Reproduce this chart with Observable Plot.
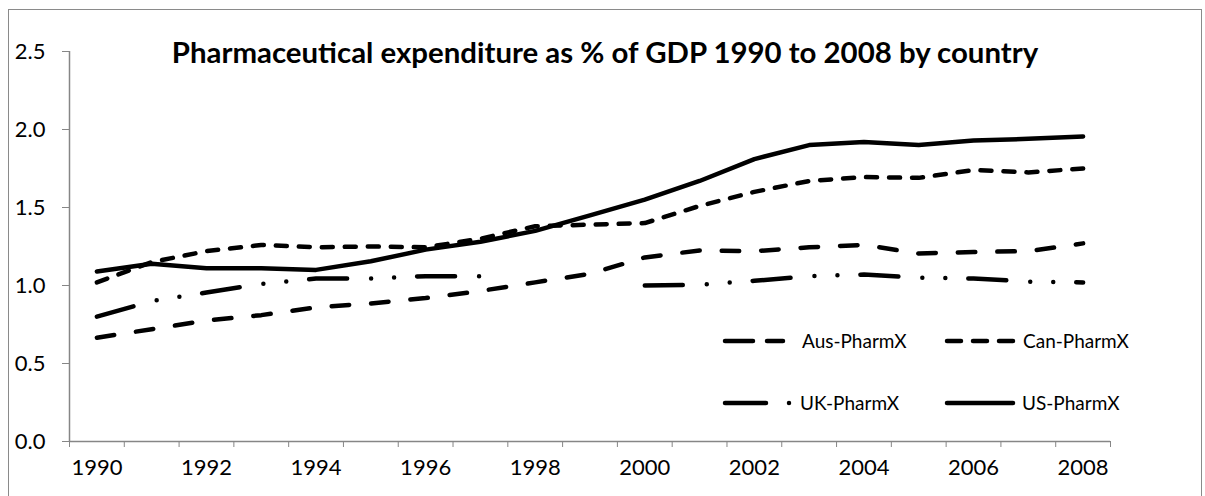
<!DOCTYPE html>
<html>
<head>
<meta charset="utf-8">
<script src="https://cdn.jsdelivr.net/npm/d3@7"></script>
<script src="https://cdn.jsdelivr.net/npm/@observablehq/plot@0.6"></script>
<style>
  html, body { margin: 0; padding: 0; background: #fff; }
  #wrap { position: relative; width: 1205px; height: 496px; overflow: hidden; }
  #border { position: absolute; left: 8px; top: 9px; width: 1194px; height: 500px; border: 1.5px solid #8a8a8a; box-sizing: border-box; pointer-events: none; }
  #legend { position: absolute; left: 0; top: 0; }
</style>
</head>
<body>
<div id="wrap"><div id="border"></div></div>
<script>
const FONT = "Lato, 'Open Sans', sans-serif";
const title = "Pharmaceutical expenditure as % of GDP 1990 to 2008 by country";
const years = [1990,1991,1992,1993,1994,1995,1996,1997,1998,1999,2000,2001,2002,2003,2004,2005,2006,2007,2008];
const xLabels = [1990,1992,1994,1996,1998,2000,2002,2004,2006,2008];
const yTicks = [0,0.5,1.0,1.5,2.0,2.5];
const series = ["Aus-PharmX","Can-PharmX","UK-PharmX","US-PharmX"];
const aus = [0.665,0.72,0.775,0.81,0.86,0.885,0.92,0.965,1.02,1.075,1.18,1.225,1.22,1.245,1.26,1.205,1.215,1.22,1.27];
const can = [1.02,1.15,1.22,1.26,1.245,1.25,1.245,1.30,1.38,1.39,1.40,1.51,1.60,1.67,1.695,1.69,1.74,1.725,1.75];
const uk  = [0.80,0.90,0.955,1.01,1.045,1.045,1.06,1.06,null,null,1.00,1.005,1.03,1.06,1.07,1.05,1.045,1.025,1.02];
const us  = [1.09,1.14,1.11,1.11,1.10,1.155,1.23,1.28,1.35,1.45,1.55,1.67,1.81,1.90,1.92,1.90,1.93,1.94,1.955];

const valuesBy = {"Aus-PharmX": aus, "Can-PharmX": can, "UK-PharmX": uk, "US-PharmX": us};
const dashBy = {"Aus-PharmX": "17.5,22", "Can-PharmX": "11,12", "UK-PharmX": "38,24,0,23,0,23", "US-PharmX": null};
const rows = series.flatMap(s => years.map((yr, i) => ({series: s, year: yr, value: valuesBy[s][i]})));
const bounds = years.map(y => y - 0.5).concat([years[years.length-1] + 0.5]);

const AXIS = "#868686";
const lineMarks = series.map(s => Plot.line(rows.filter(r => r.series === s), {
  x: "year", y: "value", stroke: "black", strokeWidth: 4.5,
  strokeDasharray: dashBy[s] || undefined,
  strokeLinecap: "round", strokeLinejoin: "round"
}));

const chart = Plot.plot({
  width: 1205, height: 496,
  marginLeft: 69, marginRight: 95, marginTop: 51, marginBottom: 55,
  style: {fontFamily: FONT, background: "transparent", color: "black"},
  x: {domain: [bounds[0], bounds[bounds.length-1]]},
  y: {domain: [0, 2.5]},
  marks: [
    Plot.ruleX([bounds[0]], {y1: 0, y2: 2.5, stroke: AXIS, strokeWidth: 1.5}),
    Plot.ruleY([0], {stroke: AXIS, strokeWidth: 1.5}),
    Plot.axisY({ticks: yTicks, tickFormat: d3.format(".1f"), tickSize: 7, tickPadding: 17, stroke: AXIS, fill: "black", fontSize: 22, label: null}),
    Plot.axisX({ticks: bounds, tickFormat: () => "", tickSize: 6, stroke: AXIS, label: null}),
    Plot.axisX({ticks: xLabels, tickFormat: d => String(d), tickSize: 0, tickPadding: 18, fill: "black", fontSize: 22, label: null}),
    ...lineMarks,
    Plot.text([title], {frameAnchor: "top", dx: 15, dy: 2, fontSize: 29.4, fontWeight: "bold", fill: "black", lineAnchor: "middle"})
  ]
});
document.getElementById("wrap").prepend(chart);

// legend overlay
const legendItems = [
  {name: series[0], x1: 725, x2: 783, y: 341, dash: "28,14", tx: 802},
  {name: series[1], x1: 947, x2: 1013, y: 341, dash: "14,12", tx: 1023},
  {name: series[2], x1: 725, x2: 790, y: 403, dash: "41,23,0,100", tx: 800},
  {name: series[3], x1: 947, x2: 1013, y: 403, dash: null, tx: 1022}
];
const lg = d3.select("#wrap").append("svg").attr("id", "legend").attr("width", 1205).attr("height", 496);
legendItems.forEach(d => {
  lg.append("line").attr("x1", d.x1).attr("x2", d.x2).attr("y1", d.y).attr("y2", d.y)
    .attr("stroke", "black").attr("stroke-width", 4.5).attr("stroke-linecap", "round")
    .attr("stroke-dasharray", d.dash);
  lg.append("text").attr("x", d.tx).attr("y", d.y).attr("dy", "0.35em")
    .attr("font-family", FONT).attr("font-size", 19).attr("fill", "black").text(d.name);
});
</script>
</body>
</html>
